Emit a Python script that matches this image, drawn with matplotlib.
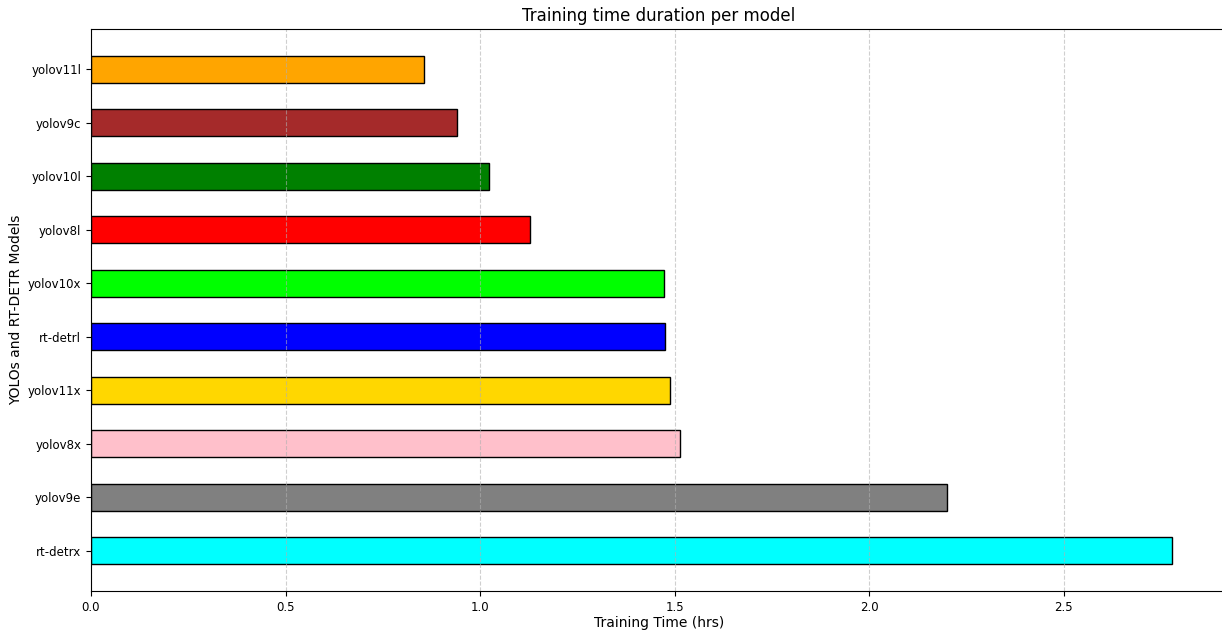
import matplotlib
matplotlib.use('Agg')
import matplotlib.pyplot as plt
import numpy as np

# bottom to top, as drawn
models = ['rt-detrx', 'yolov9e', 'yolov8x', 'yolov11x', 'rt-detrl',
          'yolov10x', 'yolov8l', 'yolov10l', 'yolov9c', 'yolov11l']
hours = [2.778, 2.200, 1.515, 1.489, 1.475, 1.473, 1.129, 1.024, 0.940, 0.857]
colors = ['cyan', 'gray', 'pink', 'gold', 'blue',
          'lime', 'red', 'green', 'brown', 'orange']

fig = plt.figure(figsize=(12.22, 6.31), dpi=100)
ax = fig.add_axes([91 / 1222, 1 - 591 / 631, (1227 - 91) / 1222, (591 - 29) / 631])

y = np.arange(len(models))
ax.barh(y, hours, height=0.5, color=colors, edgecolor='black')
ax.set_yticks(y)
ax.set_yticklabels(models)
ax.set_ylim(-0.75, len(models) - 0.25)
ax.set_xlim(0, 2.92)
ax.tick_params(labelsize=8.5)

ax.grid(axis='x', linestyle='--', alpha=0.6)
ax.set_title('Training time duration per model', fontsize=12)
ax.set_xlabel('Training Time (hrs)', fontsize=10, labelpad=2)
ax.set_ylabel('YOLOs and RT-DETR Models', fontsize=10)
ax.yaxis.set_label_coords(-0.060, 0.5)

fig.savefig('out.png', dpi=100)
